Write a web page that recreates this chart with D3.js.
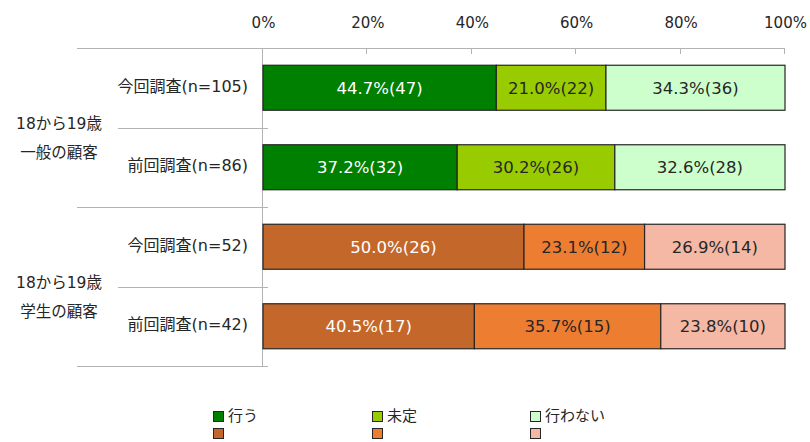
<!DOCTYPE html>
<html><head><meta charset="utf-8">
<script src="https://cdn.jsdelivr.net/npm/d3@7"></script>
<style>
body{margin:0;background:#fff;}
text{font-family:"DejaVu Sans","Noto Sans CJK JP",sans-serif;}
</style></head>
<body>
<svg id="chart" width="810" height="442"></svg>
<script>
const groups = ["18から19歳\n一般の顧客", "18から19歳\n学生の顧客"];
const rows = ["今回調査(n=105)", "前回調査(n=86)", "今回調査(n=52)", "前回調査(n=42)"];
const rowGroup = [0, 0, 1, 1];
const pctDo = [44.7, 37.2, 50.0, 40.5];
const pctUndecided = [21.0, 30.2, 23.1, 35.7];
const pctNot = [34.3, 32.6, 26.9, 23.8];
const cntDo = [47, 32, 26, 17];
const cntUndecided = [22, 26, 12, 15];
const cntNot = [36, 28, 14, 10];
const seriesNames = ["行う", "未定", "行わない"];
const ticks = [0, 20, 40, 60, 80, 100];
const colorsGroup = [["#008000", "#99cc00", "#ccffcc"], ["#c4672b", "#ed7d31", "#f4b8a4"]];
const textColors = [["#ffffff", "#262626", "#262626"], ["#ffffff", "#262626", "#262626"]];

const svg = d3.select("#chart");
const x = d3.scaleLinear().domain([0, 100]).range([263, 785]);
const y = d3.scaleBand().domain(d3.range(rows.length)).range([48, 366]).paddingInner(0).paddingOuter(0);
const barH = 45;
const ink = "#262626";
const grid = "#b3b3b3";

// top axis
const axis = d3.axisTop(x).tickValues(ticks).tickFormat(d => d + "%").tickSize(0).tickPadding(0);
const gAx = svg.append("g").attr("transform", "translate(0,48)");
gAx.call(axis);
gAx.select(".domain").remove();
gAx.selectAll("text").attr("y", -20).attr("font-size", 15).attr("fill", ink)
  .attr("font-family", "'DejaVu Sans',sans-serif");
svg.append("line").attr("x1", 77).attr("x2", x(100)).attr("y1", 48.5).attr("y2", 48.5).attr("stroke", grid);
svg.selectAll(".tk").data(ticks).enter().append("line")
  .attr("x1", d => Math.round(x(d)) - 0.5).attr("x2", d => Math.round(x(d)) - 0.5)
  .attr("y1", 48).attr("y2", 54).attr("stroke", grid);
// vertical axis
svg.append("line").attr("x1", x(0) - 0.5).attr("x2", x(0) - 0.5).attr("y1", 48).attr("y2", 367).attr("stroke", grid);
// separators
[1, 2, 3, 4].forEach(i => {
  const yv = i < rows.length ? Math.round(y(i)) + 0.5 : 366.5;
  const isGroupEdge = (i === 2 || i === 4);
  svg.append("line").attr("x1", isGroupEdge ? 77 : 118).attr("x2", 268)
    .attr("y1", yv).attr("y2", yv).attr("stroke", grid);
});

// bars
const stack = rows.map((r, i) => {
  const vals = [pctDo[i], pctUndecided[i], pctNot[i]];
  const cnts = [cntDo[i], cntUndecided[i], cntNot[i]];
  let acc = 0;
  return vals.map((v, k) => { const s = acc; acc += v; return { i, k, s, e: acc, v, c: cnts[k] }; });
});
const total = i => pctDo[i] + pctUndecided[i] + pctNot[i];
const xs = (i, v) => x(v * 100 / total(i));
stack.forEach((segs, i) => {
  const g = svg.append("g");
  const y0 = y(i) + (y.bandwidth() - barH) / 2;
  const col = colorsGroup[rowGroup[i]];
  const tc = textColors[rowGroup[i]];
  g.selectAll("rect").data(segs).enter().append("rect")
    .attr("x", d => xs(i, d.s)).attr("width", d => xs(i, d.e) - xs(i, d.s))
    .attr("y", y0).attr("height", barH)
    .attr("fill", d => col[d.k]).attr("stroke", ink).attr("stroke-width", 1.2);
  g.selectAll("text").data(segs).enter().append("text")
    .attr("x", d => (xs(i, d.s) + xs(i, d.e)) / 2).attr("y", y0 + barH / 2)
    .attr("dy", "0.36em").attr("text-anchor", "middle").attr("font-size", 16.5)
    .attr("fill", d => tc[d.k])
    .text(d => d.v.toFixed(1) + "%(" + d.c + ")");
  svg.append("text").attr("x", 248).attr("y", y(i) + y.bandwidth() / 2 - 2).attr("dy", "0.36em")
    .attr("text-anchor", "end").attr("font-size", 16).attr("fill", ink).text(rows[i]);
});

// group labels
groups.forEach((gname, gi) => {
  const idx = rowGroup.map((g, i) => g === gi ? i : -1).filter(i => i >= 0);
  const cy = (y(idx[0]) + y(idx[idx.length - 1]) + y.bandwidth()) / 2;
  gname.split("\n").forEach((ln, li) => {
    svg.append("text").attr("x", 59).attr("y", cy - 4 + li * 29).attr("dy", "0.36em")
      .attr("text-anchor", "middle").attr("font-size", 15.5).attr("fill", ink).text(ln);
  });
});

// legend
const legX = [213, 372, 530];
const legRows = [417, 434];
[0, 1].forEach(gi => {
  seriesNames.forEach((s, k) => {
    svg.append("rect").attr("x", legX[k] + 0.5).attr("y", legRows[gi] - 5.5).attr("width", 10).attr("height", 10)
      .attr("fill", colorsGroup[gi][k]).attr("stroke", ink).attr("stroke-width", 1);
    if (gi === 0) {
      svg.append("text").attr("x", legX[k] + 15).attr("y", legRows[gi] - 1).attr("dy", "0.36em")
        .attr("font-size", 15).attr("fill", ink).text(s);
    }
  });
});
</script>
</body></html>
